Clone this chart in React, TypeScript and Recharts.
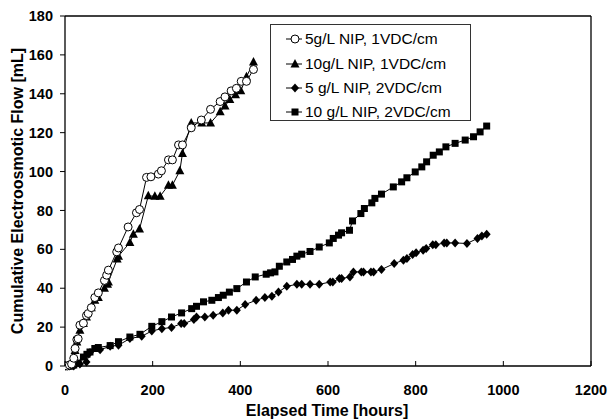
import React from 'react';
import { LineChart, Line, XAxis, YAxis, ReferenceLine, Legend } from 'recharts';

// 5 g/L NIP, 1 VDC/cm (open circles)
const hours5g1v = [0, 5, 10, 15, 20, 23, 27, 30, 34, 42, 49, 53, 60, 68, 76, 90, 95, 99, 118, 122, 144, 163, 170, 186, 196, 213, 220, 236, 245, 259, 268, 288, 311, 332, 354, 365, 379, 391, 402, 414, 430];
const flow5g1v = [0, 0, 0.5, 1, 4, 9, 13.6, 14, 21, 22, 26, 27, 30, 35.2, 37.6, 44, 46.7, 49.3, 58.7, 60.7, 71.5, 78.8, 80.5, 97, 97.3, 98.7, 100.4, 106, 106, 113.7, 113.7, 122.5, 126.5, 132, 136, 138.4, 141.5, 142.8, 146.4, 146.4, 152.5];

// 10 g/L NIP, 1 VDC/cm (filled triangles)
const hours10g1v = [0, 5, 10, 15, 20, 23, 27, 34, 42, 49, 60, 68, 76, 90, 97, 99, 119, 122, 148, 156, 170, 190, 205, 217, 236, 245, 262, 268, 288, 312, 332, 354, 365, 376, 389, 401, 414, 430];
const flow10g1v = [0, 0, 0, 1, 3, 8, 12.3, 18.4, 21.8, 25.2, 30, 33.8, 35.2, 40, 42, 43.2, 55, 56.5, 63.5, 67.8, 70.5, 87.5, 87.3, 87.3, 93, 93, 100.4, 109.3, 125, 125, 125, 130.7, 133.7, 137, 139.5, 141.5, 148.7, 156.3];

// 5 g/L NIP, 2 VDC/cm (diamonds)
const hours5g2v = [0, 10, 20, 34, 49, 57, 80, 103, 122, 148, 175, 198, 221, 243, 265, 272, 294, 300, 319, 338, 360, 373, 392, 411, 436, 456, 472, 487, 506, 529, 540, 559, 580, 605, 611, 626, 631, 650, 658, 676, 681, 698, 704, 722, 751, 772, 780, 793, 801, 817, 824, 839, 846, 865, 871, 890, 917, 941, 951, 962];
const flow5g2v = [0, 0, 0, 1, 2, 6.9, 8.4, 10.1, 10.7, 14.1, 15.3, 18, 19.2, 19.8, 21.8, 21.8, 23.9, 25.2, 25.2, 26.1, 27.3, 28.7, 28.7, 31.6, 33.8, 35.2, 35.9, 38, 41, 42, 42, 42, 42, 43.2, 43.2, 45, 45, 45.8, 48.4, 48.4, 48.4, 48.4, 48.4, 49.6, 52.7, 54.4, 55.3, 57.3, 58.2, 59.5, 60.4, 62.3, 62.3, 63.3, 63.3, 63.3, 63, 65.6, 66.8, 67.8];

// 10 g/L NIP, 2 VDC/cm (squares)
const hours10g2v = [0, 10, 20, 30, 42, 50, 57, 68, 76, 103, 122, 148, 171, 198, 221, 243, 266, 289, 300, 316, 335, 350, 361, 375, 392, 414, 434, 459, 469, 479, 489, 506, 519, 529, 540, 559, 580, 603, 612, 624, 631, 649, 656, 675, 683, 700, 707, 722, 749, 768, 780, 799, 814, 825, 840, 854, 869, 890, 913, 932, 947, 962];
const flow10g2v = [0, 0, 0.5, 1.5, 4.6, 6, 7.2, 9, 9.5, 10.5, 12.5, 14.9, 16.3, 20.4, 22.8, 25.2, 27.3, 29.5, 30.7, 33, 33.8, 35.2, 36.4, 38, 39.8, 43.2, 45.8, 47.2, 47.9, 48.4, 51.3, 53.5, 54.8, 56.5, 57.5, 58.9, 61.2, 63.3, 65.6, 67.3, 68.5, 69.8, 74.6, 78.4, 81, 83.9, 86.2, 88.4, 92.1, 94.7, 96.8, 99.8, 102.4, 105, 108.4, 110.1, 112.7, 114.5, 116.2, 117.9, 120.4, 123.4];

const xTicks = [0, 200, 400, 600, 800, 1000, 1200];
const yTicks = [0, 20, 40, 60, 80, 100, 120, 140, 160, 180];

const seriesNames = ['5g/L NIP, 1VDC/cm', '10g/L NIP, 1VDC/cm', '5 g/L NIP, 2VDC/cm', '10 g/L NIP, 2VDC/cm'];

const toPoints = (t: number[], v: number[]) => t.map((h, i) => ({ t: h, v: v[i] }));

const FONT = '"Liberation Sans", Arial, sans-serif';

// marker shapes
const marker = (kind: string, cx: number, cy: number, key?: any) => {
  switch (kind) {
    case 'circle':
      return <circle key={key} cx={cx} cy={cy} r={4} fill="#fff" stroke="#000" strokeWidth={1} />;
    case 'triangle':
      return <polygon key={key} points={`${cx},${cy - 5} ${cx + 4.5},${cy + 3.5} ${cx - 4.5},${cy + 3.5}`} fill="#000" />;
    case 'diamond':
      return <polygon key={key} points={`${cx},${cy - 4.5} ${cx + 4},${cy} ${cx},${cy + 4.5} ${cx - 4},${cy}`} fill="#000" />;
    default:
      return <rect key={key} x={cx - 3.5} y={cy - 3.5} width={7} height={7} fill="#000" />;
  }
};

const dotFor = (kind: string) => (props: any) => marker(kind, props.cx, props.cy, `${kind}-${props.index}`);

const kinds = ['circle', 'triangle', 'diamond', 'square'];

const LegendBox = () => (
  <div style={{ border: '1px solid #333', background: '#fff', width: 199, height: 95, boxSizing: 'content-box', fontFamily: FONT, fontSize: 15.5, color: '#000' }}>
    {seriesNames.map((name, i) => (
      <div key={name} style={{ display: 'flex', alignItems: 'center', height: 24.4, marginTop: i === 0 ? 2 : 0 }}>
        <svg width={33} height={12} style={{ flex: 'none' }}>
          <line x1={15} y1={6} x2={31} y2={6} stroke="#000" strokeWidth={1} />
          {marker(kinds[i], 24, 6)}
        </svg>
        <span style={{ whiteSpace: 'nowrap', marginLeft: 1 }}>{name}</span>
      </div>
    ))}
  </div>
);

const YTitle = () => (
  <text x={23} y={191} transform="rotate(-90, 23, 191)" textAnchor="middle" fontFamily={FONT} fontWeight="bold" fontSize={16} fill="#000">
    Cumulative Electroosmotic Flow [mL]
  </text>
);

const XTitle = () => (
  <text x={327} y={416} textAnchor="middle" fontFamily={FONT} fontWeight="bold" fontSize={16} fill="#000">
    Elapsed Time [hours]
  </text>
);

export default function App() {
  const tickStyle = { fontFamily: FONT, fontWeight: 'bold', fontSize: 14.5, fill: '#000' };
  return (
    <div style={{ position: 'absolute', left: 0, top: 0, width: 608, height: 419, background: '#fff' }}>
      <LineChart width={608} height={419} margin={{ top: 16, right: 17, left: 0, bottom: 20 }}>
        <XAxis
          type="number"
          dataKey="t"
          domain={[0, 1200]}
          ticks={xTicks}
          allowDataOverflow
          height={33}
          tick={tickStyle}
          tickSize={-5}
          tickMargin={24}
          axisLine={{ stroke: '#000', strokeWidth: 1.3 }}
          tickLine={{ stroke: '#000', strokeWidth: 1 }}
          label={<XTitle />}
        />
        <YAxis
          type="number"
          dataKey="v"
          domain={[0, 180]}
          ticks={yTicks}
          width={65}
          tick={tickStyle}
          tickSize={5}
          tickMargin={7}
          axisLine={{ stroke: '#000', strokeWidth: 1.3 }}
          tickLine={{ stroke: '#000', strokeWidth: 1 }}
          label={<YTitle />}
        />
        <ReferenceLine y={180} stroke="#000" strokeWidth={1.3} />
        <ReferenceLine x={1200} stroke="#000" strokeWidth={1.3} />
        <Line data={toPoints(hours10g2v, flow10g2v)} dataKey="v" name={seriesNames[3]} stroke="#000" strokeWidth={1} dot={dotFor('square')} isAnimationActive={false} />
        <Line data={toPoints(hours5g2v, flow5g2v)} dataKey="v" name={seriesNames[2]} stroke="#000" strokeWidth={1} dot={dotFor('diamond')} isAnimationActive={false} />
        <Line data={toPoints(hours10g1v, flow10g1v)} dataKey="v" name={seriesNames[1]} stroke="#000" strokeWidth={1} dot={dotFor('triangle')} isAnimationActive={false} />
        <Line data={toPoints(hours5g1v, flow5g1v)} dataKey="v" name={seriesNames[0]} stroke="#000" strokeWidth={1} dot={dotFor('circle')} isAnimationActive={false} />
        <Legend
          layout="vertical"
          align="center"
          verticalAlign="middle"
          content={<LegendBox />}
          wrapperStyle={{ left: 270, top: 24, width: 201 }}
        />
      </LineChart>
    </div>
  );
}
